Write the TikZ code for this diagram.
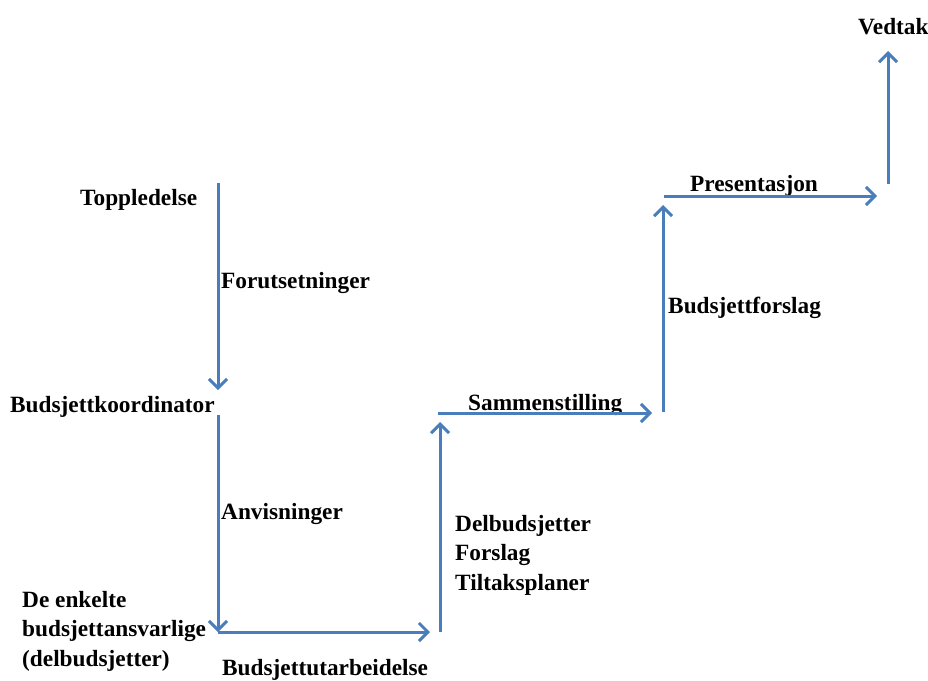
\documentclass[tikz,border=0pt]{standalone}
\usepackage{fontspec}
\setmainfont{Liberation Serif}
\usetikzlibrary{arrows.meta}
\definecolor{flowblue}{HTML}{4A7EBB}
\begin{document}
\begin{tikzpicture}[x=1pt,y=-1pt,
  lbl/.style={inner sep=0pt, anchor=base west, align=left,
    font=\fontsize{23.3}{29.5}\selectfont\bfseries},
  flow/.style={draw=flowblue, line width=3pt,
    -{Straight Barb[length=9pt,width=18pt,line width=3pt]}},
]
\useasboundingbox (0,0) rectangle (928,680);

% end points of the budget flow
\coordinate (p1) at (218,183);
\coordinate (p2) at (218,390);
\coordinate (p3) at (218,415);
\coordinate (p4) at (218,632);
\coordinate (p5) at (430,632);
\coordinate (p6) at (440,632);
\coordinate (p7) at (440,422);
\coordinate (p8) at (438,413);
\coordinate (p9) at (652,413);
\coordinate (p10) at (663,412);
\coordinate (p11) at (663,205);
\coordinate (p12) at (664,196);
\coordinate (p13) at (877,196);
\coordinate (p14) at (888,184);
\coordinate (p15) at (888,51);

% actors and stages (multi-line nodes sit on their last line)
\node[lbl] (top) at (80,205) {Toppledelse};
\node[lbl] (koord) at (10,412) {Budsjettkoordinator};
\node[lbl] (enkelte) at (22,666) {De enkelte\\budsjettansvarlige\\(delbudsjetter)};
\node[lbl] (vedtak) at (858,34) {Vedtak};

% labels along the flow
\node[lbl] (forut) at (221,288) {Forutsetninger};
\node[lbl] (anvis) at (221,519) {Anvisninger};
\node[lbl] (utarb) at (222,675) {Budsjettutarbeidelse};
\node[lbl] (delb) at (455,590) {Delbudsjetter\\Forslag\\Tiltaksplaner};
\node[lbl] (samm) at (468,410) {Sammenstilling};
\node[lbl] (forsl) at (668,313) {Budsjettforslag};
\node[lbl] (pres) at (690,191) {Presentasjon};

% arrows
\draw[flow] (p1) -- (p2);
\draw[flow] (p3) -- (p4);
\draw[flow] (p4) -- (p5);
\draw[flow] (p6) -- (p7);
\draw[flow] (p8) -- (p9);
\draw[flow] (p10) -- (p11);
\draw[flow] (p12) -- (p13);
\draw[flow] (p14) -- (p15);
\end{tikzpicture}
\end{document}
